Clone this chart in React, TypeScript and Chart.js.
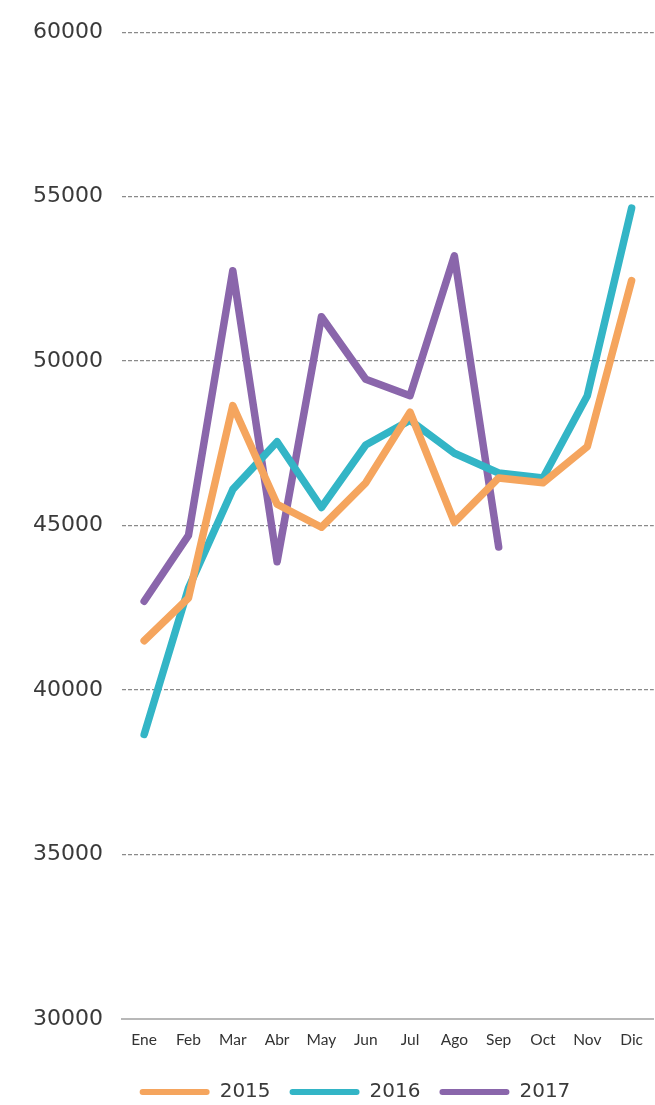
import React, { useEffect, useRef } from "react";
import { Chart, registerables } from "chart.js";

Chart.register(...registerables);

const months = ["Ene", "Feb", "Mar", "Abr", "May", "Jun", "Jul", "Ago", "Sep", "Oct", "Nov", "Dic"];
const seriesNames = ["2015", "2016", "2017"];
const values2015 = [41500, 42800, 48650, 45650, 44950, 46300, 48450, 45100, 46450, 46300, 47400, 52450];
const values2016 = [38650, 43100, 46100, 47550, 45550, 47450, 48200, 47200, 46600, 46450, 48950, 54650];
const values2017 = [42700, 44700, 52750, 43900, 51350, 49450, 48950, 53200, 44350];
const seriesColors = ["#F5A55E", "#33B5C6", "#8A66AB"];
const yMin = 30000;
const yMax = 60000;
const yStep = 5000;

const legendShift = {
  id: "legendShift",
  beforeDraw(chart: any) {
    if (chart.legend) chart.legend.left = 55;
  },
};

export default function App() {
  const ref = useRef<HTMLCanvasElement | null>(null);

  useEffect(() => {
    if (!ref.current) return;
    const allValues = [values2015, values2016, values2017];
    const chart = new Chart(ref.current, {
      type: "line",
      data: {
        labels: months,
        datasets: seriesNames.map((name, i) => ({
          label: name,
          data: allValues[i],
          borderColor: seriesColors[i],
          backgroundColor: seriesColors[i],
          borderWidth: 7.5,
          borderCapStyle: "round",
          borderJoinStyle: "round",
          pointRadius: 0,
          pointHoverRadius: 0,
          tension: 0,
          fill: false,
        })),
      },
      plugins: [legendShift],
      options: {
        responsive: false,
        animation: false,
        devicePixelRatio: 1,
        layout: { padding: { top: 32, left: 0, right: 0, bottom: -7 } },
        plugins: {
          tooltip: { enabled: false },
          legend: {
            position: "bottom",
            fullSize: true,
            labels: {
              boxWidth: 70,
              boxHeight: 6,
              padding: 19,
              color: "#3a3a3a",
              font: { family: "DejaVu Sans", size: 20 },
              generateLabels: (c: any) =>
                c.data.datasets.map((ds: any, i: number) => ({
                  text: ds.label,
                  fillStyle: ds.borderColor,
                  strokeStyle: ds.borderColor,
                  lineWidth: 0,
                  borderRadius: 3,
                  fontColor: "#3a3a3a",
                  hidden: false,
                  datasetIndex: i,
                })),
            },
          },
        },
        scales: {
          x: {
            offset: true,
            grid: { display: false, drawTicks: false },
            border: { display: true, color: "#b8b8b8", width: 2 },
            ticks: {
              color: "#333",
              font: { family: "Lato", size: 15.5 },
              padding: 12,
              maxRotation: 0,
              autoSkip: false,
            },
            afterFit: (s: any) => {
              s.height = 44;
            },
          },
          y: {
            min: yMin,
            max: yMax,
            border: { display: false, dash: [4, 2] },
            grid: {
              drawTicks: false,
              lineWidth: 1.3,
              color: (ctx: any) => (ctx.tick && ctx.tick.value === yMin ? "rgba(0,0,0,0)" : "#8a8a8a"),
            },
            ticks: {
              stepSize: yStep,
              color: "#3a3a3a",
              padding: 19,
              font: { family: "DejaVu Sans", size: 22 },
              callback: (v: any) => String(v),
            },
            afterFit: (s: any) => {
              s.width = 122;
            },
          },
        },
      },
    });
    return () => chart.destroy();
  }, []);

  return (
    <div style={{ position: "absolute", left: 0, top: 0, width: 655, height: 1105, background: "#fff" }}>
      <canvas ref={ref} width={655} height={1105} style={{ width: 655, height: 1105, display: "block" }} />
    </div>
  );
}
